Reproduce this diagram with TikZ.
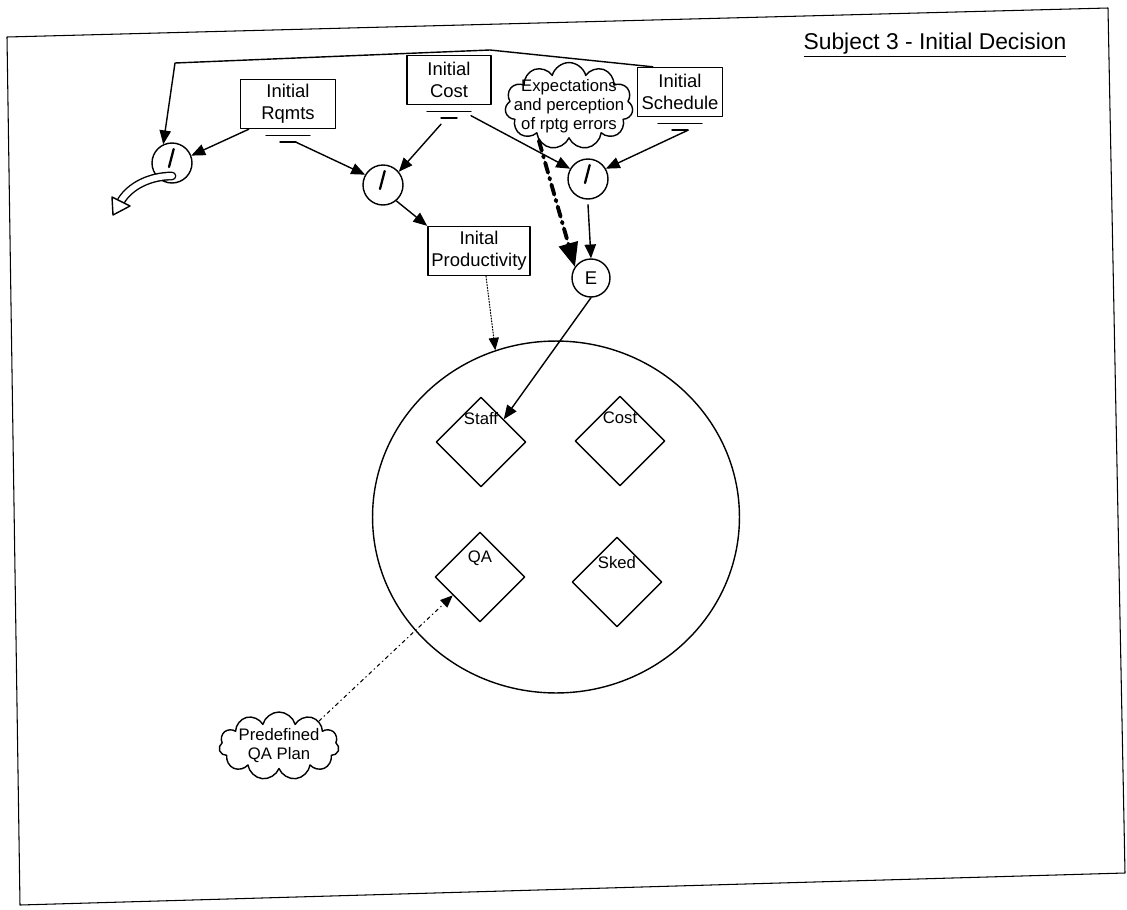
\documentclass[tikz,border=0pt]{standalone}
\usepackage{fontspec}
\setmainfont{Liberation Sans}
\usetikzlibrary{arrows,shapes.geometric,shapes.symbols}

\tikzset{
  boite/.style={draw, align=center, inner sep=2pt, minimum height=0.98cm, font=\fontsize{10.5}{12.5}\selectfont},
  taux/.style={circle, draw, minimum size=0.8cm, inner sep=0pt,
    path picture={\draw[line width=1.3pt] (path picture bounding box.center) ++(1.7,-14) -- ++(-4.7,18);}},
  nuage/.style={cloud, draw, cloud puffs=11, aspect=1.6, inner sep=-10pt, align=center, font=\fontsize{9.5}{10.8}\selectfont},
  tache/.style={diamond, draw, minimum width=1.8cm, minimum height=1.8cm, inner sep=0pt},
  etiq/.style={anchor=center, font=\fontsize{9.5}{11}\selectfont},
}

\begin{document}
\begin{tikzpicture}[line cap=round,line join=round,>=triangle 45,x=0.02cm,y=-0.02cm,thick]
		\useasboundingbox (0,0) rectangle (1127,910);
		% cadre
		\draw[semithick] (7,37) -- (1108,8) -- (1125,873) -- (20,905) -- cycle;
		\node[font=\fontsize{13}{15}\selectfont] (titre) at (935,45) {\underline{Subject 3 - Initial Decision}};
		% boites
		\node[boite, minimum width=1.9cm] (rq) at (288,104) {Initial\\Rqmts};
		\node[boite, minimum width=1.68cm] (cost) at (449,80) {Initial\\Cost};
		\node[boite, minimum width=1.7cm] (sched) at (680,92) {Initial\\Schedule};
		\node[boite, minimum width=2.04cm] (prod) at (479,251) {Inital\\Productivity};
		% marques sous les boites
		\foreach \b in {rq,cost,sched}{
			\draw ([yshift=-0.13cm]\b.south) ++(-22,0) -- ++(44,0) coordinate (\b-m1);
			\draw ([yshift=-0.26cm]\b.south) ++(-8,0) coordinate (\b-g) -- ++(16,0) coordinate (\b-m2);
		}
		% taux
		\node[taux] (r1) at (172,163) {};
		\node[taux] (r2) at (383,185) {};
		\node[taux] (r3) at (588,179) {};
		\node[circle, draw, minimum size=0.76cm, inner sep=0pt, font=\fontsize{10.5}{12}\selectfont] (est) at (591,278) {E};
		% nuages
		\node[nuage, minimum width=2.56cm, minimum height=1.6cm] (expect) at (569,106) {Expectations\\and perception\\of rptg errors};
		\node[nuage, minimum width=2.4cm, minimum height=1.36cm] (qaplan) at (279,746) {Predefined\\QA Plan};
		% decision
		\node[draw, ellipse, minimum width=7.34cm, minimum height=7.04cm] (plan) at (556,517) {};
		\node[tache, label={[etiq, yshift=-0.44cm]north:Staff}] (staff) at (481,442) {};
		\node[tache, label={[etiq, yshift=-0.44cm]north:Cost}] (costd) at (620,441) {};
		\node[tache, label={[etiq, yshift=-0.54cm]north:QA}] (qa) at (480,577) {};
		\node[tache, label={[etiq, yshift=-0.52cm]north:Sked}] (sked) at (617,582) {};
		% liens
		\coordinate (k1) at (490,50);
		\coordinate (k2) at (175,63);
		\draw[->] ([xshift=0.32cm]sched.north west) -- (k1) -- (k2) -- (r1.115);
		\draw[->] ([xshift=0.18cm]rq.south west) -- (r1.21);
		\draw[->] (rq-m2) -- (r2.150);
		\draw[->] ([yshift=-0.12cm]cost-g) -- (r2.40);
		\draw[->] ([yshift=-0.08cm]cost-m1) -- (r3.150);
		\draw[->] (sched-m2) -- (r3.30);
		\draw[->] (r2.-50) -- (prod.north west);
		\draw[->] ([yshift=-0.1cm]r3.south) -- (est.north);
		\draw[->, line width=2.2pt, dash pattern=on 6pt off 3pt on 1pt off 3pt] (expect.229) -- (est.145);
		\draw[->, semithick, densely dotted] ([xshift=0.14cm]prod.south) -- (plan.110);
		\draw[->] (est.south) -- (staff.45);
		\draw[->, semithick, dash pattern=on 2pt off 2pt on 0.5pt off 2pt] (qaplan.32) -- (qa.214);
		% sortie
		\coordinate (sortie) at (121,201);
		\draw[line width=5pt] ([yshift=-0.26cm]r1.center) .. controls (150,176) and (130,186) .. (sortie);
		\draw[white, line width=3.4pt] ([yshift=-0.26cm]r1.center) .. controls (150,176) and (130,186) .. (sortie);
		\draw[fill=white] (sortie) ++(9,5) -- ++(-17,9) -- ++(-1,-18) -- cycle;
\end{tikzpicture}
\end{document}
